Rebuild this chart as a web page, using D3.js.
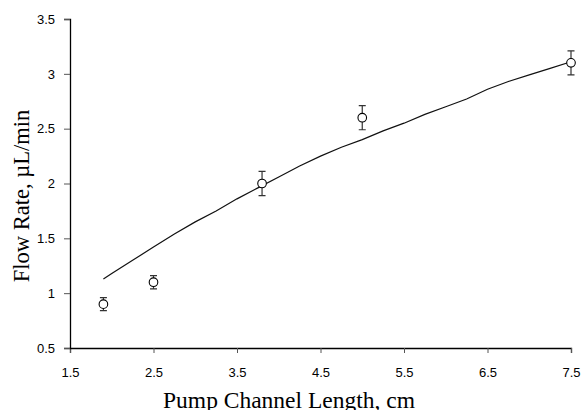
<!DOCTYPE html>
<html>
<head>
<meta charset="utf-8">
<script src="https://cdn.jsdelivr.net/npm/d3@7"></script>
<style>
  body { margin: 0; background: #fff; }
  .tick text { font-family: "Liberation Sans", Arial, sans-serif; font-size: 13px; fill: #000; }
  .title { font-family: "Liberation Serif", "Times New Roman", serif; fill: #000; }
</style>
</head>
<body>
<div id="chart"></div>
<script>
// measured points
const lengths = [1.9, 2.5, 3.8, 5.0, 7.5];
const flowRates = [0.9, 1.1, 2.0, 2.6, 3.1];
const errors = [0.06, 0.06, 0.11, 0.11, 0.11];

// model curve
const modelX = [1.9, 2.0, 2.25, 2.5, 2.75, 3.0, 3.25, 3.5, 3.75, 4.0, 4.25, 4.5, 4.75,
    5.0, 5.25, 5.5, 5.75, 6.0, 6.25, 6.5, 6.75, 7.0, 7.25, 7.5];
const modelY = [1.13, 1.18, 1.30, 1.42, 1.54, 1.65, 1.75, 1.86, 1.96, 2.06, 2.16, 2.25, 2.33,
    2.40, 2.48, 2.55, 2.63, 2.70, 2.77, 2.86, 2.93, 2.99, 3.05, 3.11];

const xTicks = [1.5, 2.5, 3.5, 4.5, 5.5, 6.5, 7.5];
const yTicks = [0.5, 1, 1.5, 2, 2.5, 3, 3.5];

const width = 582, height = 410;
const margin = { top: 19, right: 11, bottom: 62, left: 70 };

const svg = d3.select("#chart").append("svg")
    .attr("width", width)
    .attr("height", height);

const x = d3.scaleLinear().domain([1.5, 7.5]).range([margin.left, width - margin.right]);
const y = d3.scaleLinear().domain([0.5, 3.5]).range([height - margin.bottom, margin.top]);

const xAxis = svg.append("g")
    .attr("transform", `translate(0,${height - margin.bottom})`)
    .call(d3.axisBottom(x).tickValues(xTicks).tickFormat(d3.format("")).tickSize(5).tickPadding(11));

const yAxis = svg.append("g")
    .attr("transform", `translate(${margin.left},0)`)
    .call(d3.axisLeft(y).tickValues(yTicks).tickFormat(d3.format("")).tickSize(6).tickPadding(9));

[xAxis, yAxis].forEach(a => {
    a.select(".domain").attr("stroke", "#000").attr("stroke-width", 1.3);
    a.selectAll(".tick line").attr("stroke", "#555");
});
xAxis.selectAll(".tick text").attr("dy", "1.0em");

// model line
const line = d3.line()
    .x((d, i) => x(modelX[i]))
    .y(d => y(d));

svg.append("path")
    .datum(modelY)
    .attr("fill", "none")
    .attr("stroke", "#111")
    .attr("stroke-width", 1.2)
    .attr("d", line);

// error bars + markers
const pts = lengths.map((v, i) => ({ x: v, y: flowRates[i], e: errors[i] }));
const g = svg.append("g");
const cap = 3.5;

g.selectAll(".err")
    .data(pts)
    .enter().append("path")
    .attr("fill", "none")
    .attr("stroke", "#333")
    .attr("stroke-width", 1.2)
    .attr("d", d => {
        const cx = x(d.x), y0 = y(d.y - d.e), y1 = y(d.y + d.e);
        return `M${cx},${y0}V${y1}M${cx - cap},${y0}H${cx + cap}M${cx - cap},${y1}H${cx + cap}`;
    });

g.selectAll("circle")
    .data(pts)
    .enter().append("circle")
    .attr("cx", d => x(d.x))
    .attr("cy", d => y(d.y))
    .attr("r", 4.3)
    .attr("fill", "#fff")
    .attr("stroke", "#000")
    .attr("stroke-width", 1.1);

// titles
svg.append("text")
    .attr("class", "title")
    .attr("x", 289)
    .attr("y", 408)
    .attr("font-size", 23.5)
    .attr("text-anchor", "middle")
    .text("Pump Channel Length, cm");

svg.append("text")
    .attr("class", "title")
    .attr("transform", "translate(29,196) rotate(-90)")
    .attr("font-size", 22.5)
    .attr("text-anchor", "middle")
    .text("Flow Rate, µL/min");
</script>
</body>
</html>
